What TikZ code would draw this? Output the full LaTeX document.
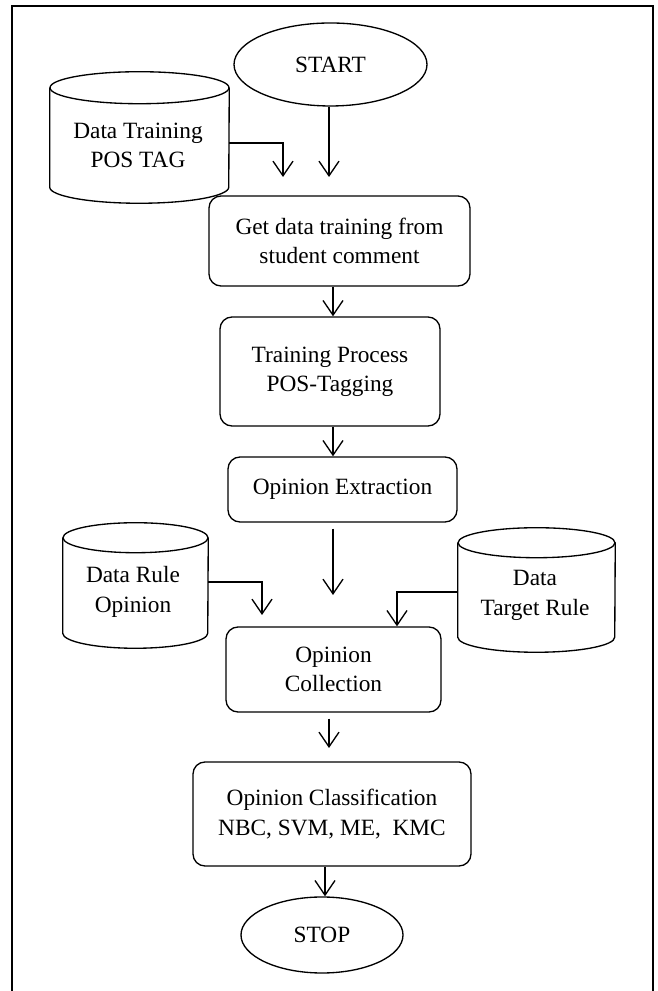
\documentclass[tikz,border=0pt]{standalone}
\usepackage{fontspec}
\setmainfont{Liberation Serif}
\usetikzlibrary{arrows.meta,shapes.geometric}
\newcommand\drawcyl[3]{%
  \draw[link] ([yshift=-#3]#1.north) ellipse [x radius=#2, y radius=#3];
  \draw[link] ([yshift=-#3]#1.north west) -- ([yshift=#3]#1.south west)
     arc[start angle=180, end angle=360, x radius=#2, y radius=#3]
     -- ([yshift=-#3]#1.north east);
}
\begin{document}
\begin{tikzpicture}[x=0.75pt,y=0.75pt,
  txt/.style={font=\fontsize{17.5}{22}\selectfont},
  box/.style={draw, rounded corners=9pt, line width=1pt, align=center, txt, inner sep=0pt},
  term/.style={draw, ellipse, line width=1pt, txt, inner sep=0pt},
  cylbox/.style={inner sep=0pt},
  lbl/.style={align=center, txt, inner sep=0pt},
  link/.style={line width=1pt},
  arr/.style={-{Straight Barb[length=11pt,width=15pt]}, line width=1pt}]
\useasboundingbox (0,0) rectangle (657,991);
\draw[line width=1.3pt] (12,-5) -- (12,985) -- (653,985) -- (653,-5);

% terminals and process boxes
\node[term, minimum width=144.75pt, minimum height=62.25pt] (start) at (330.5,926.5) {START};
\node[box, minimum width=195.75pt, minimum height=67.5pt] (b1) at (339.5,750) {Get data training from\\student comment};
\node[box, minimum width=165pt, minimum height=81.75pt] (b2) at (330,619.5) {Training Process\\POS-Tagging};
\node[box, minimum width=171.75pt, minimum height=48.75pt] (b3) at (342.5,501.5) {Opinion Extraction};
\node[box, minimum width=161.25pt, minimum height=63.75pt] (b4) at (333.5,321.5) {Opinion\\Collection};
\node[box, minimum width=208.5pt, minimum height=78pt] (b5) at (332,177) {Opinion Classification\\NBC, SVM, ME,\ \ KMC};
\node[term, minimum width=121.5pt, minimum height=57pt] (stop) at (322,56) {STOP};

% data stores
\node[cylbox, minimum width=134.25pt, minimum height=98.25pt] (cyl1) at (139.5,853.5) {};
\drawcyl{cyl1}{67.125pt}{12pt}
\node[lbl] (cyl1t) at (138,845.5) {Data Training\\POS TAG};

\node[cylbox, minimum width=108.75pt, minimum height=93.75pt] (cyl2) at (135.5,405.5) {};
\drawcyl{cyl2}{54.375pt}{11.25pt}
\node[lbl] (cyl2t) at (133,399) {Data Rule\\Opinion};

\node[cylbox, minimum width=117.75pt, minimum height=93pt] (cyl3) at (536.5,401) {};
\drawcyl{cyl3}{58.875pt}{11.25pt}
\node[lbl] (cyl3t) at (535,395.5) {Data\\Target Rule};

% helper coordinates
\coordinate (t0) at (329,814);
\coordinate (t1) at (283,814);
\coordinate (c1) at (333,0);
\coordinate (t2) at (333,396);
\coordinate (t3) at (262,376);
\coordinate (c3) at (397,0);
\coordinate (t4) at (329,243);
\coordinate (c5) at (325,0);

% connectors
\draw[arr] (start.south -| t0) -- (t0);
\draw[arr] ([yshift=-4.1pt]cyl1.east) -| (t1);
\draw[arr] (b1.south -| c1) -- (b2.north -| c1);
\draw[arr] (b2.south -| c1) -- (b3.north -| c1);
\draw[arr] ([yshift=-4.5pt]b3.south -| t2) -- (t2);
\draw[arr] ([yshift=2.6pt]cyl2.east) -| (t3);
\draw[arr] ([yshift=-1.5pt]cyl3.west) -| (b4.north -| c3);
\draw[arr] ([yshift=-4.5pt]b4.south -| t4) -- (t4);
\draw[arr] (b5.south -| c5) -- (stop.north -| c5);
\end{tikzpicture}
\end{document}
